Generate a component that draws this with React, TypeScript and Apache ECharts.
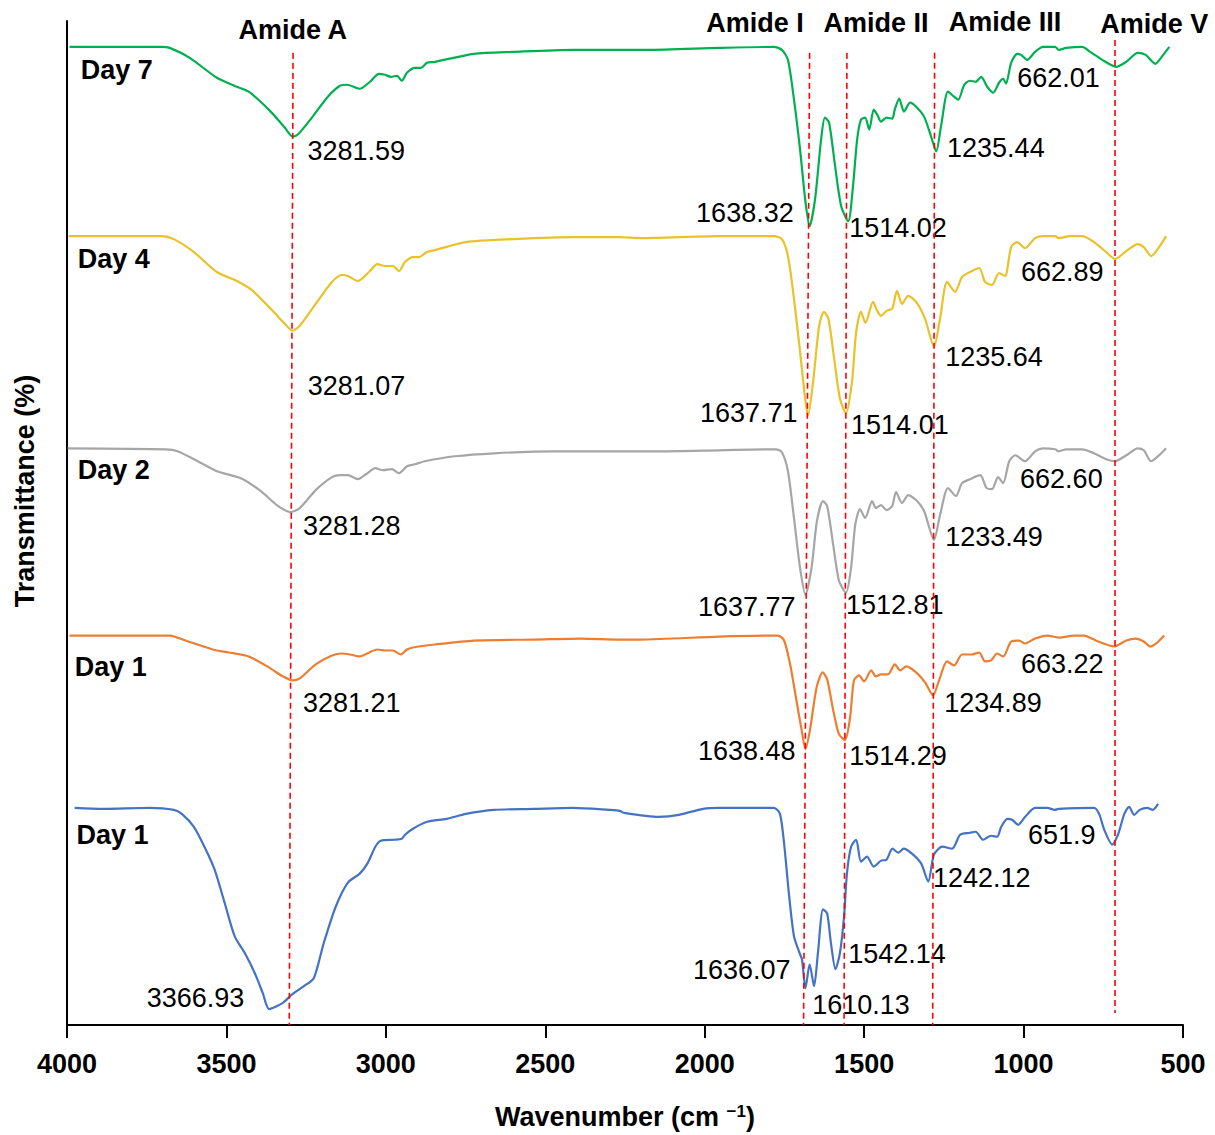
import React, { useEffect, useRef } from "react";
import * as echarts from "echarts";

const FONT = "'Liberation Sans', Arial, Helvetica, sans-serif";

// x-axis ticks (wavenumber, cm-1)
const xMin = 500;
const xMax = 4000;
const xStep = 500;

// Spectra: [wavenumber, relative transmittance (offset, a.u.)]
const day7: [number, number][] = [
  [3992, 98.2], [3703, 98.2], [3678, 98.1], [3615, 97.1], [3530, 95.1], [3468, 94.2], [3430, 93.7],
  [3367, 91.9], [3317, 90.1], [3292, 89.2], [3276, 89.4], [3232, 91.1], [3182, 93.2], [3144, 94.3],
  [3122, 94.4], [3082, 94.0], [3050, 94.7], [3022, 95.5], [3003, 95.4], [2984, 95.2], [2965, 95.3],
  [2950, 94.8], [2934, 95.6], [2909, 96.1], [2890, 96.1], [2871, 96.6], [2846, 96.7], [2724, 97.5],
  [2598, 97.7], [2413, 97.9], [2266, 97.9], [2181, 97.9], [1955, 98.1], [1783, 98.2], [1758, 97.9],
  [1739, 96.9], [1720, 92.9], [1701, 87.9], [1685, 82.9], [1671, 80.2], [1654, 82.9], [1635, 88.9],
  [1623, 91.1], [1610, 90.6], [1591, 86.2], [1572, 82.2], [1550, 80.7], [1535, 84.2], [1522, 88.9],
  [1510, 90.9], [1497, 91.1], [1484, 89.9], [1470, 91.9], [1459, 91.4], [1447, 90.7], [1430, 91.1],
  [1412, 91.0], [1404, 91.9], [1390, 93.0], [1375, 91.7], [1356, 92.6], [1337, 92.2], [1312, 91.2],
  [1290, 89.2], [1274, 87.7], [1259, 90.2], [1237, 93.7], [1218, 93.2], [1205, 92.9], [1186, 94.4],
  [1168, 94.8], [1150, 94.7], [1133, 95.2], [1114, 94.2], [1095, 93.6], [1077, 94.6], [1064, 95.0],
  [1055, 94.5], [1039, 96.6], [1020, 97.5], [1008, 97.4], [989, 96.9], [964, 97.7], [939, 98.2],
  [901, 98.2], [890, 97.9], [866, 98.1], [816, 98.2], [791, 97.7], [753, 96.9], [710, 96.2],
  [678, 96.7], [642, 97.6], [617, 97.4], [587, 96.5], [562, 97.4], [543, 98.2],
];

const day4: [number, number][] = [
  [3995, 79.2], [3703, 79.2], [3665, 78.9], [3602, 77.6], [3530, 75.6], [3461, 74.6], [3417, 73.7],
  [3355, 71.7], [3317, 70.4], [3293, 69.7], [3270, 70.2], [3220, 72.4], [3169, 74.6], [3138, 75.3],
  [3119, 75.2], [3088, 74.7], [3050, 75.7], [3027, 76.4], [3003, 76.2], [2978, 76.2], [2959, 75.7],
  [2940, 76.6], [2915, 77.1], [2896, 77.1], [2871, 77.6], [2846, 77.8], [2749, 78.6], [2598, 78.9],
  [2413, 79.1], [2266, 79.1], [2203, 79.0], [1955, 79.2], [1783, 79.2], [1758, 78.9], [1739, 77.2],
  [1720, 72.9], [1701, 67.6], [1685, 62.9], [1676, 61.2], [1660, 64.6], [1641, 70.2], [1626, 71.6],
  [1612, 70.9], [1594, 66.9], [1576, 62.9], [1557, 61.4], [1538, 64.6], [1525, 69.6], [1510, 71.6],
  [1496, 70.5], [1472, 72.6], [1459, 71.7], [1447, 71.2], [1430, 71.7], [1412, 71.9], [1397, 73.7],
  [1381, 72.4], [1362, 73.2], [1337, 72.6], [1309, 70.9], [1281, 68.1], [1262, 70.9], [1240, 74.6],
  [1215, 73.6], [1193, 75.1], [1168, 75.6], [1139, 76.0], [1121, 74.6], [1099, 74.3], [1077, 75.5],
  [1058, 75.2], [1039, 78.1], [1020, 78.6], [995, 78.0], [964, 79.0], [939, 79.2], [901, 79.2],
  [890, 79.0], [854, 79.2], [816, 79.2], [779, 78.6], [741, 77.6], [713, 76.9], [678, 77.7],
  [642, 78.4], [623, 78.1], [600, 77.2], [575, 78.1], [553, 79.2],
];

const day2: [number, number][] = [
  [3998, 57.9], [3690, 57.8], [3653, 57.6], [3590, 56.6], [3530, 55.6], [3455, 54.9], [3392, 53.6],
  [3342, 52.2], [3300, 51.5], [3270, 51.9], [3220, 53.7], [3169, 55.0], [3144, 55.2], [3119, 55.2],
  [3088, 54.8], [3058, 55.4], [3033, 55.9], [3009, 55.7], [2981, 55.8], [2959, 55.4], [2934, 56.1],
  [2909, 56.3], [2878, 56.6], [2784, 57.1], [2661, 57.4], [2476, 57.6], [2266, 57.6], [2143, 57.6],
  [1955, 57.7], [1776, 57.8], [1758, 57.5], [1739, 55.6], [1720, 50.9], [1701, 45.9], [1684, 43.2],
  [1665, 45.9], [1648, 50.6], [1629, 52.6], [1616, 52.1], [1597, 48.2], [1579, 44.6], [1557, 43.4],
  [1541, 45.9], [1528, 50.2], [1513, 51.8], [1497, 50.9], [1475, 52.6], [1463, 51.9], [1447, 52.2],
  [1430, 51.7], [1412, 52.1], [1400, 53.5], [1381, 52.4], [1362, 53.2], [1337, 52.7], [1312, 51.6],
  [1281, 48.7], [1262, 51.2], [1237, 53.9], [1212, 53.1], [1193, 54.4], [1168, 54.8], [1136, 55.2],
  [1116, 53.9], [1099, 53.8], [1080, 55.0], [1064, 54.4], [1045, 56.6], [1026, 57.2], [995, 56.6],
  [964, 57.6], [939, 57.9], [901, 57.8], [890, 57.6], [866, 57.8], [816, 57.8], [779, 57.4],
  [741, 56.8], [713, 56.6], [678, 57.2], [642, 57.9], [623, 57.7], [600, 56.6], [575, 57.2], [553, 57.9],
];

const day1a: [number, number][] = [
  [3992, 39.1], [3678, 39.1], [3628, 38.6], [3543, 37.7], [3493, 37.4], [3430, 37.0], [3367, 35.9],
  [3323, 35.0], [3293, 34.6], [3270, 34.8], [3220, 36.2], [3169, 37.1], [3138, 37.3], [3113, 37.2],
  [3082, 37.0], [3052, 37.4], [3027, 37.7], [3003, 37.6], [2978, 37.6], [2953, 37.2], [2934, 37.7],
  [2915, 37.9], [2846, 38.2], [2724, 38.6], [2536, 38.7], [2388, 38.8], [2266, 38.7], [2203, 38.7],
  [1955, 39.0], [1770, 39.1], [1751, 38.6], [1732, 36.2], [1714, 32.9], [1696, 29.6], [1684, 27.7],
  [1670, 29.6], [1649, 33.9], [1630, 35.4], [1616, 34.7], [1597, 31.6], [1579, 29.2], [1560, 28.6],
  [1544, 30.9], [1532, 34.6], [1516, 35.1], [1500, 34.5], [1478, 35.6], [1463, 35.0], [1447, 35.2],
  [1425, 35.2], [1404, 36.2], [1387, 35.6], [1368, 36.0], [1337, 35.4], [1309, 34.4], [1284, 33.1],
  [1265, 34.6], [1240, 36.5], [1218, 36.1], [1193, 37.2], [1163, 37.2], [1139, 37.4], [1121, 36.5],
  [1102, 36.6], [1083, 37.3], [1064, 37.0], [1039, 38.5], [1014, 38.6], [995, 38.3], [964, 38.8],
  [926, 39.1], [890, 38.9], [841, 39.1], [810, 39.1], [766, 38.5], [716, 38.0], [678, 38.6],
  [648, 38.8], [623, 38.5], [603, 38.0], [581, 38.4], [559, 39.1],
];

const day1b: [number, number][] = [
  [3976, 21.8], [3888, 21.7], [3741, 21.8], [3665, 21.6], [3640, 21.2], [3602, 19.9], [3566, 17.7],
  [3537, 15.6], [3505, 12.2], [3474, 8.9], [3442, 7.2], [3411, 5.2], [3386, 3.2], [3366, 1.6],
  [3324, 2.2], [3293, 3.1], [3257, 3.9], [3226, 4.7], [3195, 8.2], [3157, 11.9], [3119, 14.3],
  [3082, 15.2], [3058, 16.2], [3033, 17.9], [3016, 18.5], [2972, 18.6], [2950, 18.7], [2940, 19.1],
  [2915, 19.7], [2871, 20.4], [2809, 20.7], [2749, 21.2], [2661, 21.6], [2536, 21.7], [2413, 21.8],
  [2300, 21.6], [2266, 21.5], [2253, 21.3], [2143, 20.9], [2081, 21.1], [2005, 21.7], [1955, 21.8],
  [1783, 21.8], [1764, 21.2], [1751, 18.2], [1736, 13.2], [1720, 8.9], [1701, 7.1], [1695, 6.6],
  [1684, 3.7], [1671, 6.1], [1657, 3.9], [1645, 7.2], [1629, 11.6], [1616, 11.2], [1604, 8.2],
  [1590, 5.6], [1576, 7.2], [1563, 10.9], [1554, 15.2], [1541, 17.9], [1525, 18.6], [1510, 16.4],
  [1491, 16.9], [1470, 15.9], [1447, 16.5], [1430, 16.6], [1411, 17.7], [1393, 17.3], [1376, 17.7],
  [1350, 17.2], [1321, 16.2], [1299, 14.4], [1281, 17.1], [1255, 17.9], [1224, 17.7], [1199, 19.1],
  [1169, 19.3], [1150, 19.4], [1127, 18.6], [1102, 19.0], [1083, 18.9], [1070, 19.9], [1051, 20.7],
  [1036, 20.6], [1017, 20.1], [995, 20.9], [964, 21.8], [926, 21.8], [902, 21.6], [890, 21.7],
  [779, 21.8], [763, 21.2], [747, 19.6], [722, 18.1], [703, 19.2], [684, 21.2], [669, 21.9],
  [653, 21.1], [636, 21.6], [612, 21.8], [595, 21.6], [578, 22.2],
];

const traceNames = ["Day 7", "Day 4", "Day 2", "Day 1", "Day 1"];
const traceColors = ["#00b050", "#e9c22a", "#a6a6a6", "#ed7d31", "#4472c4"];
const traces = [day7, day4, day2, day1a, day1b];

// Day labels: [text, wavenumber, y]
const dayLabels: [string, number, number][] = [
  ["Day 7", 3957, 95.9],
  ["Day 4", 3966, 76.9],
  ["Day 2", 3966, 55.7],
  ["Day 1", 3976, 35.9],
  ["Day 1", 3970, 19.1],
];

// Band titles (centred): [text, wavenumber, y]
const bandTitles: [string, number, number][] = [
  ["Amide A", 3292, 99.9],
  ["Amide I", 1842, 100.6],
  ["Amide II", 1463, 100.6],
  ["Amide III", 1058, 100.7],
  ["Amide V", 590, 100.5],
];

// Band marker lines: [wavenumber top, y top, wavenumber bottom, y bottom]
const bandLines: [number, number, number, number][] = [
  [3291, 97.6, 3303, 0],
  [1671, 97.6, 1690, 0],
  [1554, 97.6, 1563, 0],
  [1279, 97.6, 1285, 0],
  [713, 98.9, 713, 1.2],
];

// Peak labels (left edge): [text, wavenumber, y]
const peakLabels: [string, number, number][] = [
  ["3281.59", 3246, 87.7],
  ["1638.32", 2027, 81.5],
  ["1514.02", 1547, 80.0],
  ["1235.44", 1240, 88.0],
  ["662.01", 1020, 95.1],
  ["3281.07", 3245, 64.2],
  ["1637.71", 2015, 61.4],
  ["1514.01", 1541, 60.2],
  ["1235.64", 1246, 67.1],
  ["662.89", 1008, 75.6],
  ["3281.28", 3260, 50.1],
  ["1637.77", 2021, 42.0],
  ["1512.81", 1557, 42.2],
  ["1233.49", 1246, 49.0],
  ["662.60", 1011, 54.8],
  ["3281.21", 3260, 32.3],
  ["1638.48", 2021, 27.5],
  ["1514.29", 1547, 27.0],
  ["1234.89", 1249, 32.3],
  ["663.22", 1008, 36.2],
  ["3366.93", 3750, 2.7],
  ["1636.07", 2037, 5.5],
  ["1610.13", 1663, 2.0],
  ["1542.14", 1550, 7.1],
  ["1242.12", 1284, 14.8],
  ["651.9", 986, 19.1],
];

const yMin = 0;
const yMax = 100.8;

export default function App() {
  const ref = useRef<HTMLDivElement>(null);

  useEffect(() => {
    document.body.style.margin = "0";
    if (!ref.current) return;
    const chart = echarts.init(ref.current, null, { renderer: "svg" });

    const lineSeries = traces.map((d, i) => ({
      type: "line",
      name: traceNames[i],
      data: d,
      showSymbol: false,
      symbol: "none",
      smooth: 0.25,
      silent: true,
      z: 2,
      lineStyle: { color: traceColors[i], width: 2.2 },
    }));

    const textItem = (t: [string, number, number], bold: boolean, align: string) => ({
      value: [t[1], t[2]],
      label: {
        show: true,
        formatter: t[0],
        position: [0, 0],
        align,
        verticalAlign: "middle",
        fontFamily: FONT,
        fontSize: 27,
        fontWeight: bold ? "bold" : "normal",
        color: "#000",
        textBorderWidth: 0,
        opacity: 1,
      },
    });

    const option = {
      animation: false,
      textStyle: { fontFamily: FONT },
      grid: { left: 67, right: 32, top: 21, bottom: 106, containLabel: false },
      xAxis: {
        type: "value",
        min: xMin,
        max: xMax,
        interval: xStep,
        inverse: true,
        name: "{a|Wavenumber (cm }{s|−1}{a|)}",
        nameLocation: "middle",
        nameGap: 78,
        nameTextStyle: {
          rich: {
            a: { fontFamily: FONT, fontSize: 27, fontWeight: "bold", color: "#000" },
            s: { fontFamily: FONT, fontSize: 17, fontWeight: "bold", color: "#000", verticalAlign: "top", padding: [0, 0, 10, 0] },
          },
        },
        axisLine: { show: true, onZero: false, lineStyle: { color: "#000", width: 2 } },
        axisTick: { show: true, inside: false, length: 13, lineStyle: { color: "#000", width: 2 } },
        axisLabel: {
          color: "#000",
          fontFamily: FONT,
          fontSize: 27,
          fontWeight: "bold",
          margin: 25,
          formatter: (v: number) => String(v),
        },
        splitLine: { show: false },
      },
      yAxis: {
        type: "value",
        min: yMin,
        max: yMax,
        axisLine: { show: true, onZero: false, lineStyle: { color: "#000", width: 2 } },
        axisTick: { show: false },
        axisLabel: { show: false },
        splitLine: { show: false },
      },
      graphic: [
        {
          type: "text",
          x: 25,
          y: 491,
          rotation: Math.PI / 2,
          style: {
            text: "Transmittance (%)",
            font: `bold 27px ${FONT}`,
            fill: "#000",
            textAlign: "center",
            textVerticalAlign: "middle",
            align: "center",
            verticalAlign: "middle",
          },
        },
      ],
      series: [
        ...lineSeries,
        {
          type: "line",
          name: "bands",
          data: [],
          silent: true,
          z: 3,
          markLine: {
            silent: true,
            symbol: ["none", "none"],
            label: { show: false },
            lineStyle: { color: "#ff0000", type: [6, 4], width: 1.6 },
            data: bandLines.map((b) => [{ coord: [b[0], b[1]] }, { coord: [b[2], b[3]] }]),
          },
        },
        {
          type: "scatter",
          name: "labels",
          symbolSize: 0,
          silent: true,
          z: 4,
          itemStyle: { opacity: 1 },
          data: [
            ...dayLabels.map((t) => textItem(t, true, "left")),
            ...bandTitles.map((t) => textItem(t, true, "center")),
            ...peakLabels.map((t) => textItem(t, false, "left")),
          ],
        },
      ],
    };

    chart.setOption(option as any);
    return () => chart.dispose();
  }, []);

  return (
    <div
      ref={ref}
      style={{ position: "absolute", left: 0, top: 0, width: 1215, height: 1135, background: "#fff" }}
    />
  );
}
